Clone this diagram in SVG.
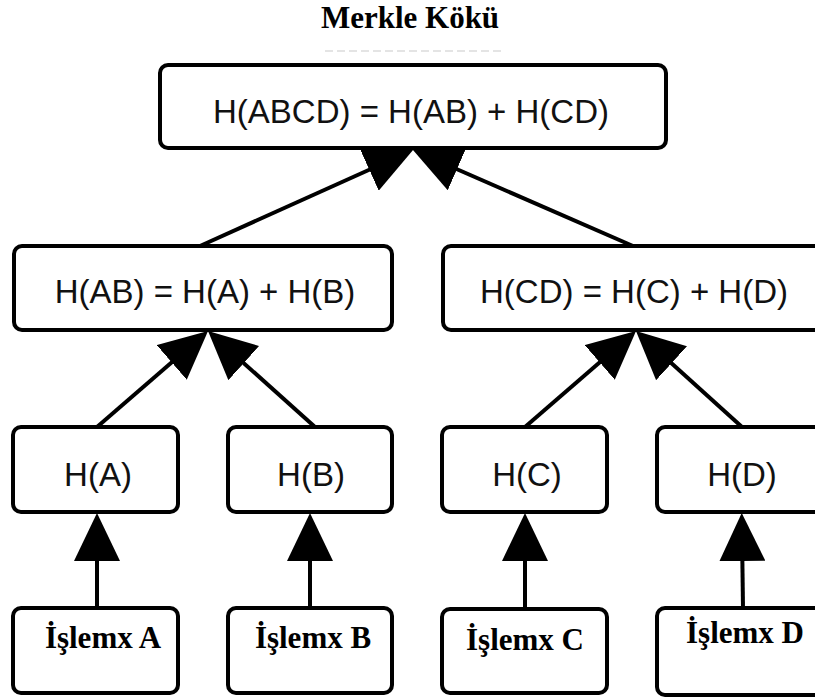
<svg xmlns="http://www.w3.org/2000/svg" width="815" height="700" viewBox="0 0 815 700">
<defs>
<style>
.box{fill:#fff;stroke:#000;stroke-width:4}
.h{font-family:"Liberation Sans",Arial,sans-serif;font-size:33px;fill:#111;text-anchor:middle}
.t{font-family:"Liberation Serif","Times New Roman",serif;font-weight:bold;font-size:31px;fill:#000;text-anchor:middle}
.c{stroke:#000;stroke-width:4;fill:none;marker-end:url(#ah)}
</style>
<marker id="ah" markerUnits="userSpaceOnUse" markerWidth="48" markerHeight="46" refX="28" refY="23" orient="auto" viewBox="0 0 48 46">
<path d="M0,0 L48,23 L0,46 z" fill="#000"/>
</marker>
</defs>
<rect width="815" height="700" fill="#fff"/>
<text class="t" x="410" y="28">Merkle Kökü</text>
<line x1="325" y1="51" x2="505" y2="51" stroke="#e4e4e4" stroke-width="2" stroke-dasharray="8 4"/>
<g id="connectors">
<line class="c" x1="200" y1="246" x2="394.8" y2="158.2"/>
<line class="c" x1="633" y1="246" x2="431.3" y2="158"/>
<line class="c" x1="97" y1="427" x2="192.9" y2="344.1"/>
<line class="c" x1="315" y1="427" x2="222.9" y2="344.4"/>
<line class="c" x1="525" y1="427" x2="620.9" y2="344.1"/>
<line class="c" x1="742" y1="427" x2="650.8" y2="344.4"/>
<line class="c" x1="97" y1="608" x2="97" y2="533"/>
<line class="c" x1="310" y1="608" x2="310" y2="533"/>
<line class="c" x1="525" y1="608" x2="525" y2="533"/>
<line class="c" x1="743" y1="608" x2="742" y2="533"/>
</g>
<g id="root"><rect class="box" x="160" y="65" width="506" height="83" rx="8"/><text class="h" x="411" y="123">H(ABCD) = H(AB) + H(CD)</text></g>
<g id="hab"><rect class="box" x="14" y="246" width="378" height="84" rx="8"/><text class="h" x="205" y="303">H(AB) = H(A) + H(B)</text></g>
<g id="hcd"><rect class="box" x="443" y="246" width="380" height="84" rx="8"/><text class="h" x="634" y="303">H(CD) = H(C) + H(D)</text></g>
<g id="ha"><rect class="box" x="13" y="427" width="165" height="85" rx="8"/><text class="h" x="98" y="486">H(A)</text></g>
<g id="hb"><rect class="box" x="228" y="427" width="164" height="85" rx="8"/><text class="h" x="311" y="486">H(B)</text></g>
<g id="hc"><rect class="box" x="442" y="427" width="165" height="85" rx="8"/><text class="h" x="527" y="486">H(C)</text></g>
<g id="hd"><rect class="box" x="657" y="427" width="165" height="85" rx="8"/><text class="h" x="742" y="486">H(D)</text></g>
<g id="ta"><rect class="box" x="13" y="608" width="165" height="85" rx="8"/><text class="t" x="103" y="648">İşlemx A</text></g>
<g id="tb"><rect class="box" x="228" y="608" width="164" height="85" rx="8"/><text class="t" x="313" y="648">İşlemx B</text></g>
<g id="tc"><rect class="box" x="442" y="609" width="165" height="84" rx="8"/><text class="t" x="525" y="650">İşlemx C</text></g>
<g id="td"><rect class="box" x="657" y="608" width="165" height="87" rx="8"/><text class="t" x="745" y="643">İşlemx D</text></g>
</svg>
